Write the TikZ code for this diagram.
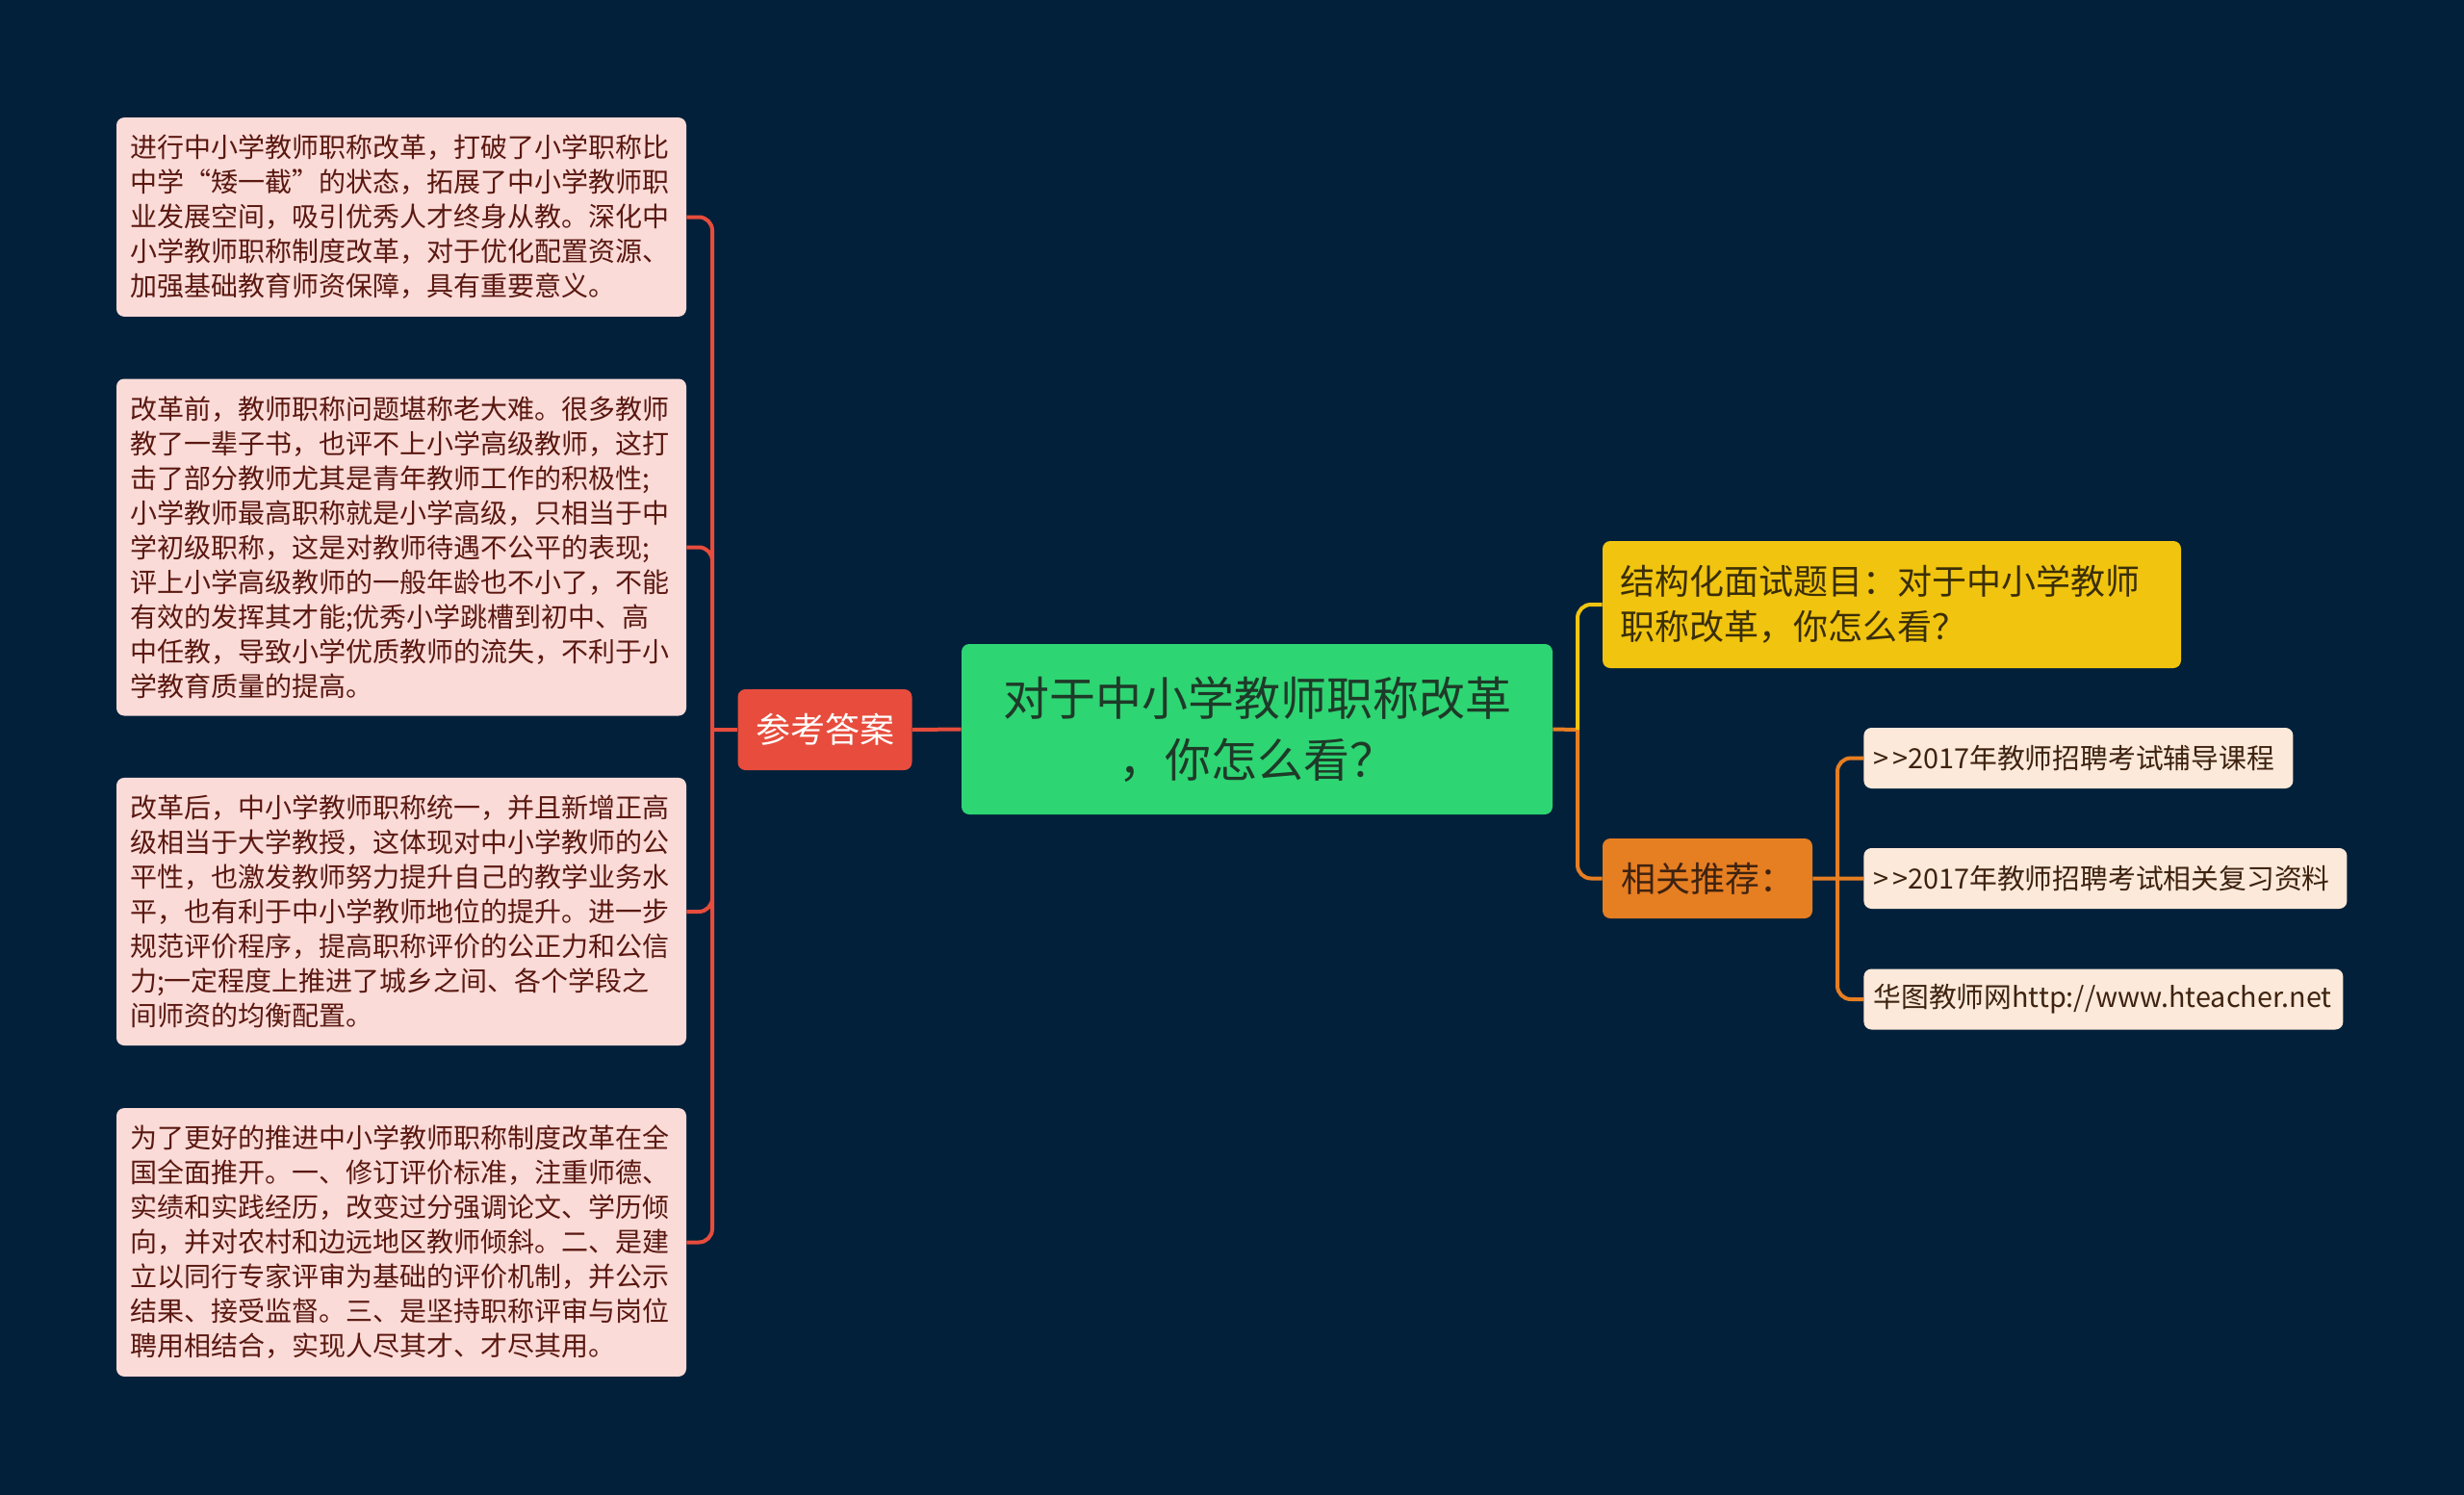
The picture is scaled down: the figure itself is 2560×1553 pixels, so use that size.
\documentclass[tikz,border=0pt]{standalone}
\usepackage{fontspec}
\setmainfont{Noto Sans CJK SC}
\definecolor{navybg}{HTML}{02203A}
\definecolor{leaffill}{HTML}{FADBD8}
\definecolor{leaftext}{HTML}{5A1810}
\definecolor{ansred}{HTML}{E74C3C}
\definecolor{rootgreen}{HTML}{2ED573}
\definecolor{roottext}{HTML}{1E3A28}
\definecolor{qyellow}{HTML}{F1C40F}
\definecolor{qtext}{HTML}{3A2E08}
\definecolor{recorange}{HTML}{E67E22}
\definecolor{rectext}{HTML}{3E2210}
\definecolor{linkfill}{HTML}{FCE9D9}
\newcommand{\gtgt}{>\kern2pt>}
\begin{document}
\begin{tikzpicture}[x=0.5pt, y=-0.5pt,
  every node/.style={rounded corners=4pt, inner sep=0pt},
  leaf/.style={fill=leaffill, text=leaftext, text width=282pt, inner xsep=7pt, inner ysep=9pt, align=left, font=\fontsize{14pt}{18pt}\selectfont},
  link/.style={fill=linkfill, text=rectext, inner xsep=5pt, minimum height=31.5pt, align=left, anchor=west, font=\fontsize{14.4pt}{18pt}\selectfont},
  redline/.style={draw=ansred, line width=2pt, rounded corners=7pt},
  orangeline/.style={draw=recorange, line width=2pt, rounded corners=7pt},
  yellowline/.style={draw=qyellow, line width=2pt, rounded corners=7pt}]
  \fill[navybg] (0,0) rectangle (2560,1553);
  \useasboundingbox (0,0) rectangle (2560,1553);
  % centre and first level
  \node[fill=rootgreen, text=roottext, minimum width=307pt, minimum height=88.5pt, align=center, font=\fontsize{24pt}{32pt}\selectfont] (root) at (1306,757.5) {对于中小学教师职称改革\\，你怎么看？};
  \node[fill=ansred, text=white, minimum width=90.5pt, minimum height=42pt, font=\fontsize{18pt}{22pt}\selectfont] (ans) at (857,758) {参考答案};
  \node[fill=qyellow, text=qtext, text width=282.5pt, inner xsep=9pt, minimum height=66pt, align=left, font=\fontsize{18pt}{23.5pt}\selectfont] (quest) at (1965.5,628) {结构化面试题目：对于中小学教师\\职称改革，你怎么看？};
  \node[fill=recorange, text=rectext, minimum width=109pt, minimum height=41.5pt, font=\fontsize{18pt}{22pt}\selectfont] (rec) at (1774,912.5) {相关推荐：};
  % answer texts
  \node[leaf] (b1) at (417,225.5) {进行中小学教师职称改革，打破了小学职称比\\中学“矮一截”的状态，拓展了中小学教师职\\业发展空间，吸引优秀人才终身从教。深化中\\小学教师职称制度改革，对于优化配置资源、\\加强基础教育师资保障，具有重要意义。};
  \node[leaf] (b2) at (417,568.5) {改革前，教师职称问题堪称老大难。很多教师\\教了一辈子书，也评不上小学高级教师，这打\\击了部分教师尤其是青年教师工作的积极性;\\小学教师最高职称就是小学高级，只相当于中\\学初级职称，这是对教师待遇不公平的表现;\\评上小学高级教师的一般年龄也不小了，不能\\有效的发挥其才能;优秀小学跳槽到初中、高\\中任教，导致小学优质教师的流失，不利于小\\学教育质量的提高。};
  \node[leaf] (b3) at (417,947) {改革后，中小学教师职称统一，并且新增正高\\级相当于大学教授，这体现对中小学教师的公\\平性，也激发教师努力提升自己的教学业务水\\平，也有利于中小学教师地位的提升。进一步\\规范评价程序，提高职称评价的公正力和公信\\力;一定程度上推进了城乡之间、各个学段之\\间师资的均衡配置。};
  \node[leaf] (b4) at (417,1290.5) {为了更好的推进中小学教师职称制度改革在全\\国全面推开。一、修订评价标准，注重师德、\\实绩和实践经历，改变过分强调论文、学历倾\\向，并对农村和边远地区教师倾斜。二、是建\\立以同行专家评审为基础的评价机制，并公示\\结果、接受监督。三、是坚持职称评审与岗位\\聘用相结合，实现人尽其才、才尽其用。};
  % recommendations
  \node[link, text width=213pt] (r1) at (1936,787.5) {\gtgt2017年教师招聘考试辅导课程};
  \node[link, text width=241pt] (r2) at (1936,912.5) {\gtgt2017年教师招聘考试相关复习资料};
  \node[link, text width=239pt] (r3) at (1936,1038) {华图教师网http://www.hteacher.net};
  \coordinate (lj) at (740,758);
  \coordinate (rj) at (1639,758);
  \coordinate (sj) at (1909,912.5);
  \draw[redline] (root.west)--(ans.east) (ans.west)--(lj);
  \draw[redline] (lj)|-(b1.east) (lj)|-(b2.east) (lj)|-(b3.east) (lj)|-(b4.east);
  \draw[orangeline] (root.east)--(rj) (rj)|-(rec.west);
  \draw[yellowline] (rj)|-(quest.west);
  \draw[orangeline] (rec.east)--(r2.west) (sj)|-(r1.west) (sj)|-(r3.west);
\end{tikzpicture}
\end{document}
